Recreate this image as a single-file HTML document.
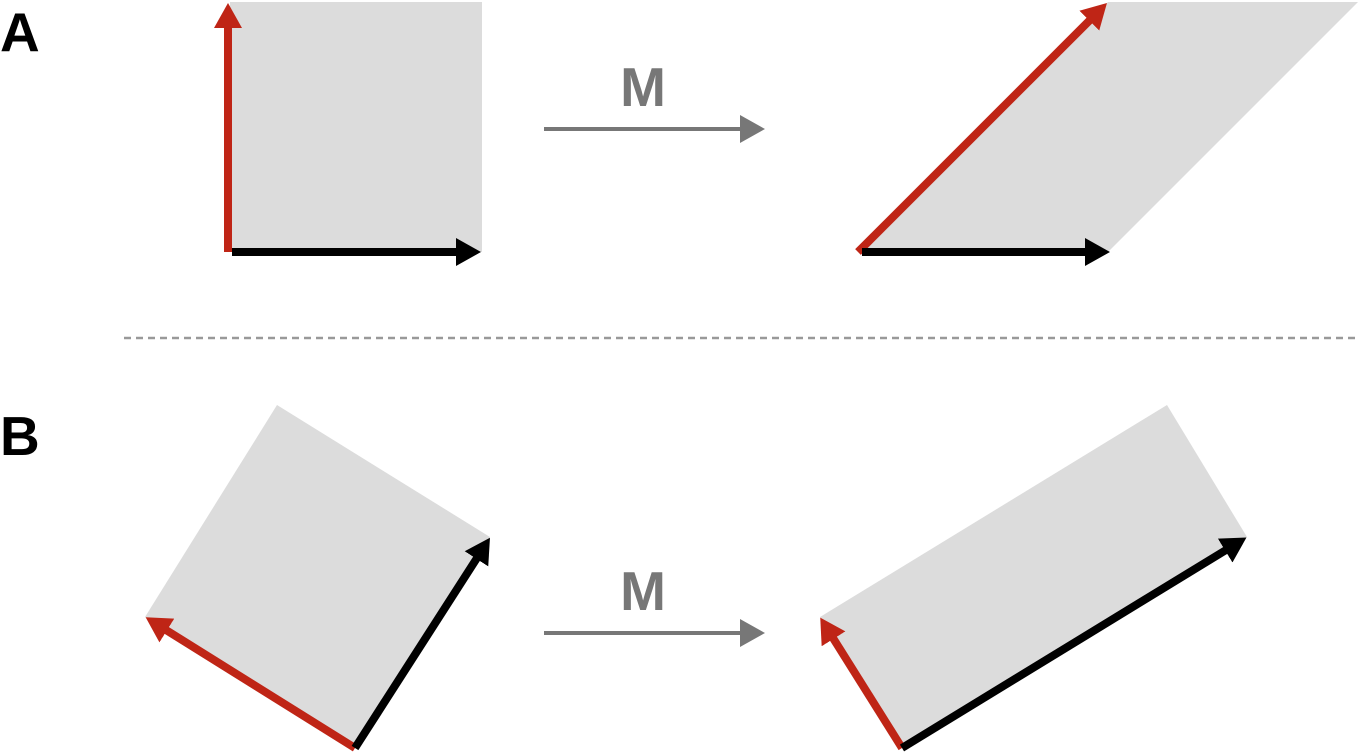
<!DOCTYPE html>
<html><head><style>html,body{margin:0;padding:0;background:#fff}svg{display:block}</style></head>
<body>
<svg width="1359" height="754" viewBox="0 0 1359 754" xmlns="http://www.w3.org/2000/svg">
<defs>
<marker id="hr" markerUnits="userSpaceOnUse" markerWidth="26" markerHeight="30" refX="1" refY="15" orient="auto"><path d="M0,1 L25,15 L0,29 Z" fill="#bf2516"/></marker>
<marker id="hb" markerUnits="userSpaceOnUse" markerWidth="26" markerHeight="30" refX="1" refY="15" orient="auto"><path d="M0,1 L25,15 L0,29 Z" fill="#000"/></marker>
<marker id="hg" markerUnits="userSpaceOnUse" markerWidth="26" markerHeight="30" refX="1" refY="15" orient="auto"><path d="M0,1 L25,15 L0,29 Z" fill="#777"/></marker>
</defs>
<g font-family="Liberation Sans, Arial, sans-serif" font-weight="bold">
<text x="0" y="51" font-size="55" fill="#000">A</text>
<text x="0" y="455" font-size="55" fill="#000">B</text>
<text x="643" y="106" font-size="55" fill="#777" text-anchor="middle">M</text>
<text x="643" y="610" font-size="55" fill="#777" text-anchor="middle">M</text>
</g>
<!-- A -->
<rect x="230" y="2" width="252" height="250" fill="#dcdcdc"/>
<line x1="228" y1="252" x2="228" y2="27" stroke="#bf2516" stroke-width="8" marker-end="url(#hr)"/>
<line x1="232" y1="252" x2="457" y2="252" stroke="#000" stroke-width="8" marker-end="url(#hb)"/>
<line x1="544" y1="129" x2="741" y2="129" stroke="#777" stroke-width="4" marker-end="url(#hg)"/>
<polygon points="858,252 1108,2 1358,2 1108,252" fill="#dcdcdc"/>
<line x1="858" y1="252" x2="1090" y2="20" stroke="#bf2516" stroke-width="8" marker-end="url(#hr)"/>
<line x1="862" y1="252" x2="1086" y2="252" stroke="#000" stroke-width="8" marker-end="url(#hb)"/>
<line x1="124" y1="338" x2="1359" y2="338" stroke="#999" stroke-width="2.5" stroke-dasharray="7,5"/>
<!-- B -->
<polygon points="355,748 490,537 277,405 145,617" fill="#dcdcdc"/>
<line x1="355" y1="748" x2="166" y2="630" stroke="#bf2516" stroke-width="8" marker-end="url(#hr)"/>
<line x1="355" y1="748" x2="477" y2="558" stroke="#000" stroke-width="8" marker-end="url(#hb)"/>
<line x1="544" y1="633" x2="741" y2="633" stroke="#777" stroke-width="4" marker-end="url(#hg)"/>
<polygon points="902,748 1247,537 1167,405 820,617" fill="#dcdcdc"/>
<line x1="902" y1="748" x2="833" y2="638" stroke="#bf2516" stroke-width="8" marker-end="url(#hr)"/>
<line x1="902" y1="748" x2="1226" y2="550" stroke="#000" stroke-width="8" marker-end="url(#hb)"/>
</svg>
</body></html>
